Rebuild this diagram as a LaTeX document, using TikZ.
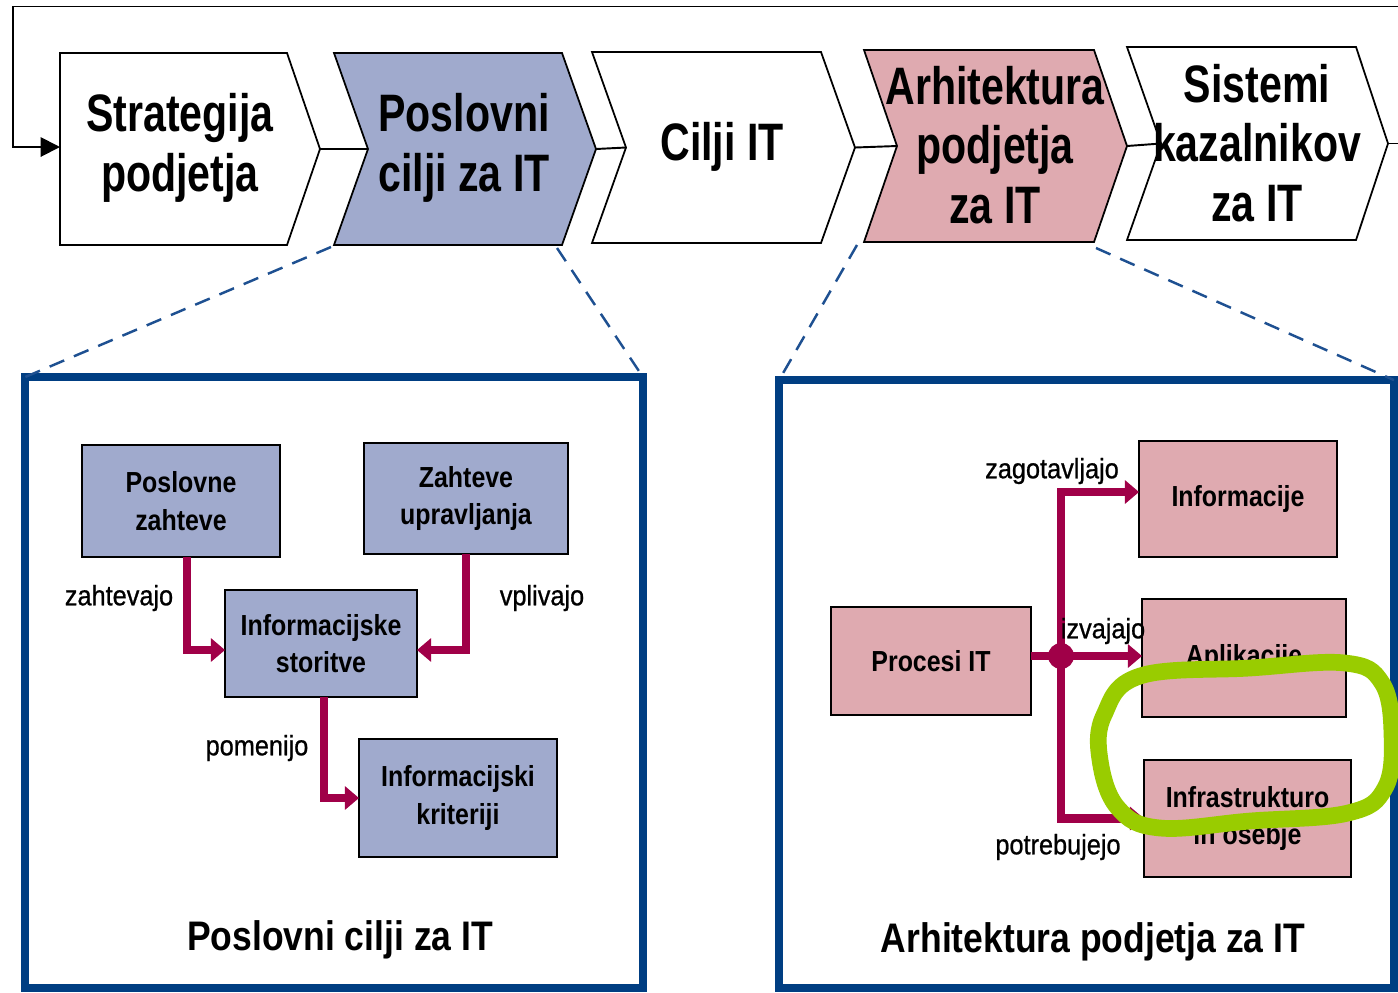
\documentclass[tikz,border=0pt]{standalone}
\usepackage{fontspec}
\setmainfont{Liberation Sans}
\newfontfamily\chevfont[FakeStretch=0.78]{Liberation Sans}
\newfontfamily\boxfont[FakeStretch=0.86]{Liberation Sans}
\newfontfamily\labfont[FakeStretch=0.9,FakeBold=0.8]{Liberation Sans}
\usetikzlibrary{arrows.meta}
\definecolor{pblue}{RGB}{160,170,205}
\definecolor{ppink}{RGB}{223,170,176}
\definecolor{maroonc}{RGB}{160,0,72}
\definecolor{panelblue}{RGB}{0,62,130}
\definecolor{dashblue}{RGB}{30,80,145}
\definecolor{limec}{RGB}{153,204,0}
\tikzset{
  chev/.style={draw=black, line width=1pt, line join=miter},
  chevtext/.style={font=\chevfont\bfseries\fontsize{30}{34}\selectfont, align=center, inner sep=0pt},
  ibox/.style={draw=black, line width=1.4pt, inner sep=0pt, outer sep=0pt, align=center,
    font=\boxfont\bfseries\fontsize{16.5}{21.4}\selectfont},
  bluebox/.style={ibox, fill=pblue},
  pinkbox/.style={ibox, fill=ppink},
  panel/.style={draw=panelblue, line width=4.5pt, fill=white, inner sep=0pt, outer sep=0pt},
  dashl/.style={draw=dashblue, line width=1.4pt, dash pattern=on 9pt off 6pt},
  mline/.style={draw=maroonc, line width=5pt},
  marrow/.style={mline, -{Triangle[width=13pt,length=8pt]}},
  lab/.style={font=\labfont\fontsize{16}{19}\selectfont, inner sep=0pt},
  ptitle/.style={font=\boxfont\bfseries\fontsize{23.5}{28}\selectfont, inner sep=0pt},
  loopl/.style={draw=black, line width=1.1pt}
}
\begin{document}
\begin{tikzpicture}[x=0.02cm,y=-0.02cm]
\useasboundingbox (0,0) rectangle (1398,992);
\fill[white] (0,0) rectangle (1398,992);

% ---------- panels ----------
\node[panel, minimum width=12.36cm, minimum height=12.22cm] (lp) at (334,682.5) {};
\node[panel, minimum width=12.3cm, minimum height=12.16cm] (rp) at (1086.5,684) {};

% ---------- chevron corner coordinates ----------
\coordinate (c1w) at (60,147);
\coordinate (t1) at (320,149);
\coordinate (n2) at (368,149);
\coordinate (t2) at (596,149);
\coordinate (n3) at (626,147.5);
\coordinate (t3) at (855,147.5);
\coordinate (n4) at (897,146);
\coordinate (t4) at (1127,146);
\coordinate (n5) at (1161,143.5);
\coordinate (t5) at (1388,143.5);
\coordinate (c2bl) at (331,247);
\coordinate (c2br) at (557,248);
\coordinate (c4bl) at (857,245);
\coordinate (c4br) at (1096,248);

% ---------- chevrons ----------
\draw[chev, fill=white] (60,53) -- (287,53) -- (t1) -- (287,245) -- (60,245) -- cycle;
\draw[chev, fill=pblue] (334,53) -- (562,53) -- (t2) -- (562,245) -- (334,245) -- (n2) -- cycle;
\draw[chev, fill=white] (592,52) -- (821,52) -- (t3) -- (821,243) -- (592,243) -- (n3) -- cycle;
\draw[chev, fill=ppink] (864,50) -- (1094,50) -- (t4) -- (1094,242) -- (864,242) -- (n4) -- cycle;
\draw[chev, fill=white] (1127,47) -- (1356,47) -- (t5) -- (1356,240) -- (1127,240) -- (n5) -- cycle;

\node[chevtext] (c1) at (180,148) {Strategija\\podjetja};
\node[chevtext] (c2) at (464,148) {Poslovni\\cilji za IT};
\node[chevtext] (c3) at (722,147) {Cilji IT};
\node[chevtext] (c4) at (995,145) {Arhitektura\\podjetja\\za IT};
\node[chevtext] (c5) at (1257,143) {Sistemi\\kazalnikov\\za IT};

% connectors between chevrons
\draw[loopl] (t1) -- (n2);
\draw[loopl] (t2) -- (n3);
\draw[loopl] (t3) -- (n4);
\draw[loopl] (t4) -- (n5);
% feedback loop
\draw[loopl, -{Triangle[width=11pt,length=11pt]}] (t5) -- (1420,143.5) -- (1420,6.5) -- (13,6.5) -- (13,147) -- (c1w);

% ---------- dashed zoom lines ----------
\draw[dashl] (c2bl) -- (lp.north west);
\draw[dashl] (c2br) -- (lp.north east);
\draw[dashl] (c4bl) -- (rp.north west);
\draw[dashl] (c4br) -- (rp.north east);

% ---------- left panel ----------
\node[bluebox, minimum width=3.96cm, minimum height=2.24cm] (pz) at (181,501) {Poslovne\\zahteve};
\node[bluebox, minimum width=4.08cm, minimum height=2.22cm] (zu) at (466,498.5) {Zahteve\\upravljanja};
\node[bluebox, minimum width=3.84cm, minimum height=2.14cm] (is) at (321,643.5) {Informacijske\\storitve};
\node[bluebox, minimum width=3.96cm, minimum height=2.36cm] (ik) at (458,798) {Informacijski\\kriteriji};

\draw[marrow] ([xshift=0.12cm]pz.south) |- ([yshift=-0.13cm]is.west);
\draw[marrow] (zu.south) |- ([yshift=-0.13cm]is.east);
\draw[marrow] ([xshift=0.06cm]is.south) |- (ik.west);

\node[lab] (l1) at (119,598) {zahtevajo};
\node[lab] (l2) at (542,598) {vplivajo};
\node[lab] (l3) at (257,748) {pomenijo};
\node[ptitle] (lt) at (340,940) {Poslovni cilji za IT};

% ---------- right panel ----------
\node[pinkbox, minimum width=4.0cm, minimum height=2.16cm] (pit) at (931,661) {Procesi IT};
\node[pinkbox, minimum width=3.96cm, minimum height=2.32cm] (inf) at (1238,499) {Informacije};
\node[pinkbox, minimum width=4.08cm, minimum height=2.36cm] (ap) at (1244,658) {Aplikacije};
\node[pinkbox, minimum width=4.14cm, minimum height=2.34cm] (infra) at (1247.5,818.5) {Infrastrukturo\\in osebje};

\coordinate (J) at (1061,656);
\draw[mline] (pit.east |- J) -- (J);
\draw[marrow] (J) |- ([yshift=0.14cm]inf.west);
\draw[marrow] (J) -- (J -| ap.west);
\draw[marrow] (J) |- (infra.west);
\fill[maroonc] (J) circle (0.26cm);

\node[lab] (l4) at (1052,471) {zagotavljajo};
\node[lab] (l5) at (1103,631) {izvajajo};
\node[lab] (l6) at (1058,847) {potrebujejo};
\node[ptitle] (rt) at (1093,942) {Arhitektura podjetja za IT};

% ---------- green annotation ----------
\draw[limec, line width=9.5pt, line cap=round, line join=round]
  plot[smooth cycle, tension=0.65] coordinates {(1140,676) (1250,668) (1345,663) (1382,683) (1392,735) (1385,788) (1348,813) (1250,821) (1160,828) (1118,808) (1100,760) (1104,715)};
\end{tikzpicture}
\end{document}
